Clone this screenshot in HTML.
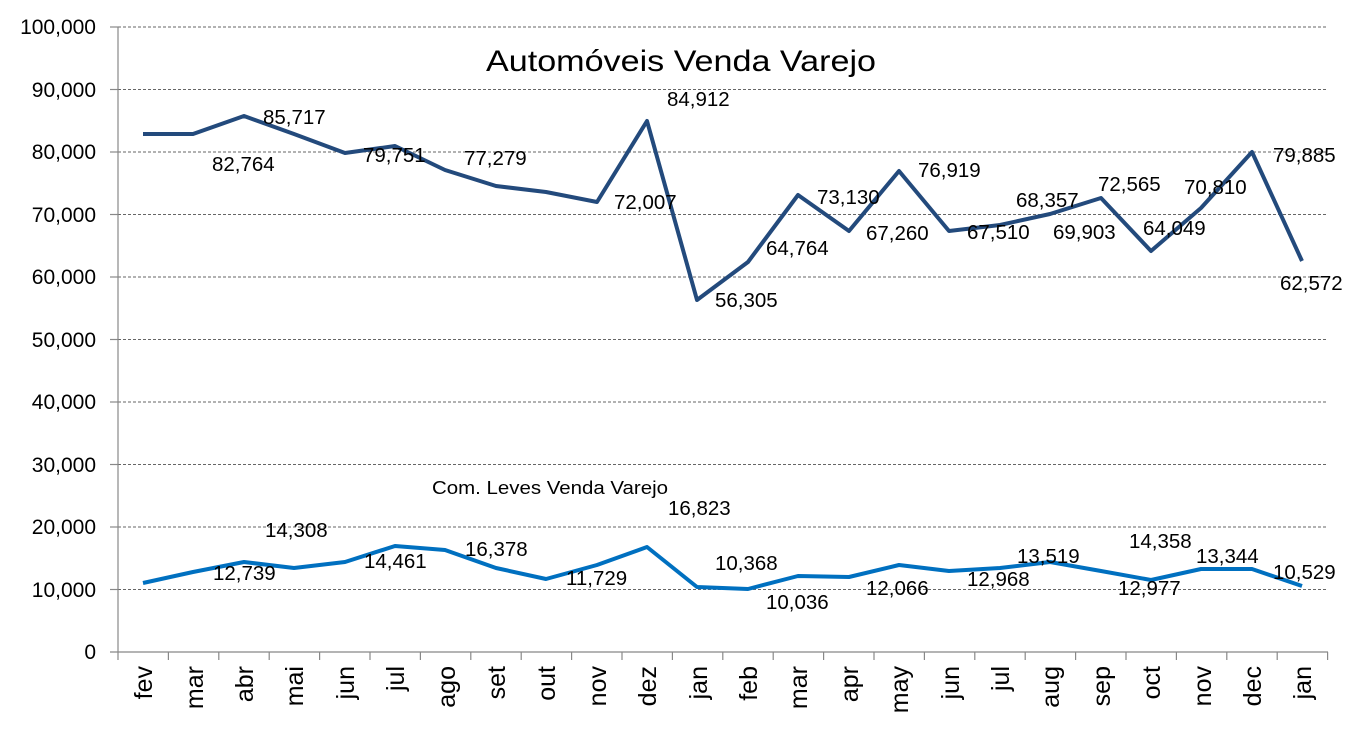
<!DOCTYPE html>
<html><head><meta charset="utf-8"><style>body{margin:0;background:#fff}svg{display:block}text{font-family:"Liberation Sans",sans-serif;fill:#000}</style></head><body>
<svg width="1350" height="742" viewBox="0 0 1350 742" xmlns="http://www.w3.org/2000/svg">
<g stroke="#666" stroke-width="1" stroke-dasharray="3,2">
<line x1="118" x2="1328" y1="27" y2="27"/><line x1="118" x2="1328" y1="89.5" y2="89.5"/><line x1="118" x2="1328" y1="152" y2="152"/><line x1="118" x2="1328" y1="214.5" y2="214.5"/><line x1="118" x2="1328" y1="277" y2="277"/><line x1="118" x2="1328" y1="339.5" y2="339.5"/><line x1="118" x2="1328" y1="402" y2="402"/><line x1="118" x2="1328" y1="464.5" y2="464.5"/><line x1="118" x2="1328" y1="527" y2="527"/><line x1="118" x2="1328" y1="589.5" y2="589.5"/>
</g>
<g stroke="#888" stroke-width="1.2">
<line x1="118" y1="27" x2="118" y2="660"/><line x1="110" y1="652" x2="1328" y2="652"/>
<line x1="110" y1="27" x2="118" y2="27"/><line x1="110" y1="89.5" x2="118" y2="89.5"/><line x1="110" y1="152" x2="118" y2="152"/><line x1="110" y1="214.5" x2="118" y2="214.5"/><line x1="110" y1="277" x2="118" y2="277"/><line x1="110" y1="339.5" x2="118" y2="339.5"/><line x1="110" y1="402" x2="118" y2="402"/><line x1="110" y1="464.5" x2="118" y2="464.5"/><line x1="110" y1="527" x2="118" y2="527"/><line x1="110" y1="589.5" x2="118" y2="589.5"/>
<line x1="168.4" y1="652" x2="168.4" y2="660"/><line x1="218.8" y1="652" x2="218.8" y2="660"/><line x1="269.2" y1="652" x2="269.2" y2="660"/><line x1="319.6" y1="652" x2="319.6" y2="660"/><line x1="370" y1="652" x2="370" y2="660"/><line x1="420.4" y1="652" x2="420.4" y2="660"/><line x1="470.8" y1="652" x2="470.8" y2="660"/><line x1="521.2" y1="652" x2="521.2" y2="660"/><line x1="571.6" y1="652" x2="571.6" y2="660"/><line x1="622" y1="652" x2="622" y2="660"/><line x1="672.4" y1="652" x2="672.4" y2="660"/><line x1="722.8" y1="652" x2="722.8" y2="660"/><line x1="773.2" y1="652" x2="773.2" y2="660"/><line x1="823.6" y1="652" x2="823.6" y2="660"/><line x1="874" y1="652" x2="874" y2="660"/><line x1="924.4" y1="652" x2="924.4" y2="660"/><line x1="974.8" y1="652" x2="974.8" y2="660"/><line x1="1025.2" y1="652" x2="1025.2" y2="660"/><line x1="1075.6" y1="652" x2="1075.6" y2="660"/><line x1="1126" y1="652" x2="1126" y2="660"/><line x1="1176.4" y1="652" x2="1176.4" y2="660"/><line x1="1226.8" y1="652" x2="1226.8" y2="660"/><line x1="1277.2" y1="652" x2="1277.2" y2="660"/><line x1="1327.6" y1="652" x2="1327.6" y2="660"/>
</g>
<g font-size="21" text-anchor="end">
<text x="96" y="34">100,000</text><text x="96" y="97">90,000</text><text x="96" y="159">80,000</text><text x="96" y="222">70,000</text><text x="96" y="284">60,000</text><text x="96" y="347">50,000</text><text x="96" y="409">40,000</text><text x="96" y="472">30,000</text><text x="96" y="534">20,000</text><text x="96" y="597">10,000</text><text x="96" y="659">0</text>
</g>
<g font-size="25" text-anchor="end">
<text transform="translate(152,666) rotate(-90)">fev</text><text transform="translate(203,666) rotate(-90)">mar</text><text transform="translate(253,666) rotate(-90)">abr</text><text transform="translate(303,666) rotate(-90)">mai</text><text transform="translate(354,666) rotate(-90)">jun</text><text transform="translate(404,666) rotate(-90)">jul</text><text transform="translate(455,666) rotate(-90)">ago</text><text transform="translate(505,666) rotate(-90)">set</text><text transform="translate(555,666) rotate(-90)">out</text><text transform="translate(606,666) rotate(-90)">nov</text><text transform="translate(656,666) rotate(-90)">dez</text><text transform="translate(707,666) rotate(-90)">jan</text><text transform="translate(757,666) rotate(-90)">feb</text><text transform="translate(807,666) rotate(-90)">mar</text><text transform="translate(858,666) rotate(-90)">apr</text><text transform="translate(908,666) rotate(-90)">may</text><text transform="translate(959,666) rotate(-90)">jun</text><text transform="translate(1009,666) rotate(-90)">jul</text><text transform="translate(1059,666) rotate(-90)">aug</text><text transform="translate(1110,666) rotate(-90)">sep</text><text transform="translate(1160,666) rotate(-90)">oct</text><text transform="translate(1211,666) rotate(-90)">nov</text><text transform="translate(1261,666) rotate(-90)">dec</text><text transform="translate(1311,666) rotate(-90)">jan</text>
</g>
<polyline fill="none" stroke="#234A7C" stroke-width="4" stroke-linejoin="round" points="143,134 193,134 244,116 294,134 345,153 395,146 445,170 496,186 546,192 597,202 647,121 697,300 748,262 798,195 849,231 899,171 949,231 1000,225 1050,214 1101,198 1151,251 1201,208 1252,152 1302,261"/>
<polyline fill="none" stroke="#0070C0" stroke-width="4" stroke-linejoin="round" points="143,583 193,572 244,562 294,568 345,562 395,546 445,550 496,568 546,579 597,565 647,547 697,587 748,589 798,576 849,577 899,565 949,571 1000,568 1050,562 1101,571 1151,580 1201,569 1252,569 1302,586"/>
<text x="486" y="71" font-size="30" textLength="390" lengthAdjust="spacingAndGlyphs">Automóveis Venda Varejo</text>
<text x="432" y="494" font-size="18" textLength="236" lengthAdjust="spacingAndGlyphs">Com. Leves Venda Varejo</text>
<g font-size="20.5">
<text x="212" y="171">82,764</text><text x="263" y="124">85,717</text><text x="363" y="162">79,751</text><text x="464" y="165">77,279</text><text x="614" y="209">72,007</text><text x="667" y="106">84,912</text><text x="715" y="307">56,305</text><text x="766" y="255">64,764</text><text x="817" y="204">73,130</text><text x="866" y="240">67,260</text><text x="918" y="177">76,919</text><text x="967" y="239">67,510</text><text x="1016" y="207">68,357</text><text x="1053" y="239">69,903</text><text x="1098" y="191">72,565</text><text x="1143" y="235">64,049</text><text x="1184" y="194">70,810</text><text x="1273" y="162">79,885</text><text x="1280" y="290">62,572</text>
<text x="213" y="580">12,739</text><text x="265" y="537">14,308</text><text x="364" y="568">14,461</text><text x="465" y="556">16,378</text><text x="566" y="585">11,729</text><text x="668" y="515">16,823</text><text x="715" y="570">10,368</text><text x="766" y="609">10,036</text><text x="866" y="595">12,066</text><text x="967" y="586">12,968</text><text x="1017" y="563">13,519</text><text x="1129" y="548">14,358</text><text x="1118" y="595">12,977</text><text x="1196" y="563">13,344</text><text x="1273" y="579">10,529</text>
</g>
</svg>
</body></html>
